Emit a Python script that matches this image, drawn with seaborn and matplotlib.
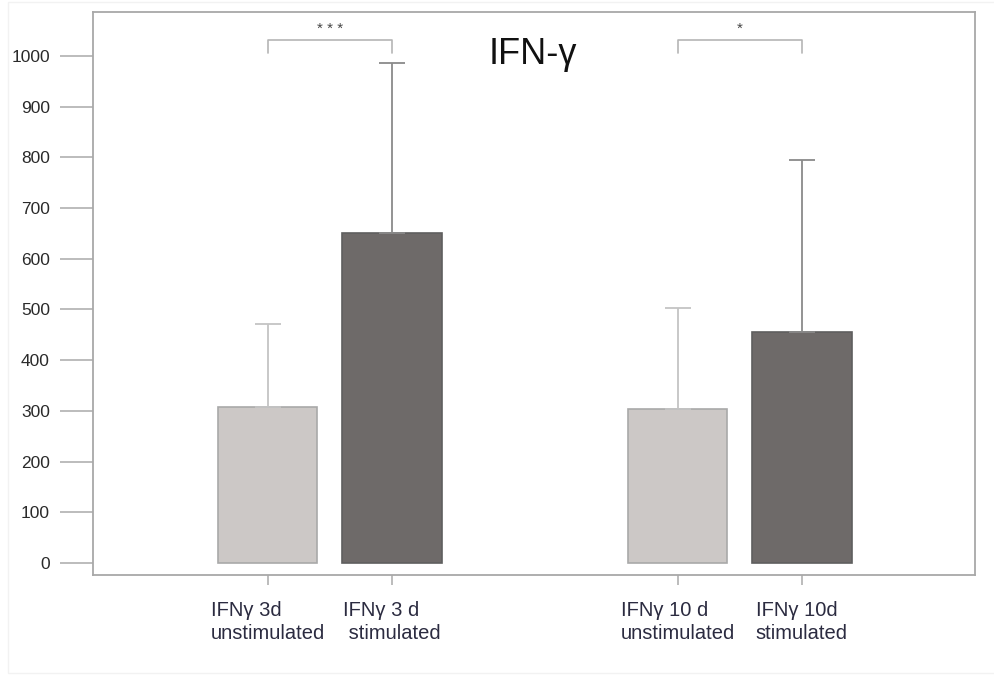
import matplotlib
matplotlib.use("Agg")
import matplotlib.pyplot as plt
import matplotlib.patches as mpatches
import numpy as np
import pandas as pd
import seaborn as sns

# Group labels, positions along the x axis, means and upper SD
labels = ["IFNγ 3d\nunstimulated", "IFNγ 3 d\n stimulated",
          "IFNγ 10 d\nunstimulated", "IFNγ 10d\nstimulated"]
positions = [0.0, 1.0, 3.3, 4.3]
means = [307, 651, 303, 456]
upper_sd = [164, 336, 200, 338]
condition = ["unstimulated", "stimulated", "unstimulated", "stimulated"]

# Significance brackets: (left index, right index, stars)
brackets = [(0, 1, "* * *"), (2, 3, "*")]

y_ticks = list(range(0, 1001, 100))

fill = {"unstimulated": "#cdc7c5", "stimulated": "#6f6a68"}
edge = {"unstimulated": "#a9a9a9", "stimulated": "#5f5f5f"}
err_col = {"unstimulated": "#c4c4c4", "stimulated": "#8a8a8a"}

sns.set_theme(style="white")
plt.rcParams["font.family"] = ["Liberation Sans", "DejaVu Sans"]

df = pd.DataFrame({"pos": positions, "mean": means, "cond": condition})

fig = plt.figure(figsize=(9.95, 6.75), dpi=100)
ax = fig.add_axes([93 / 995, 1 - 575 / 675, (975 - 93) / 995, (575 - 12) / 675])

sns.barplot(data=df, x="pos", y="mean", hue="cond", palette=fill,
            native_scale=True, dodge=False, width=0.8, errorbar=None,
            legend=False, ax=ax, linewidth=1.2)

for patch in ax.patches:
    x_mid = patch.get_x() + patch.get_width() / 2
    i = int(np.argmin([abs(x_mid - p) for p in positions]))
    patch.set_edgecolor(edge[condition[i]])
    patch.set_linewidth(1.2)

for i, (p, m, s) in enumerate(zip(positions, means, upper_sd)):
    ax.errorbar([p], [m], yerr=[[0], [s]], fmt="none",
                ecolor=err_col[condition[i]], elinewidth=1.3,
                capsize=9.5, capthick=1.3, zorder=1)

# Significance brackets
for a, b, stars in brackets:
    xa, xb = positions[a], positions[b]
    ax.plot([xa, xa, xb, xb], [1006, 1031, 1031, 1006],
            color="#b5b5b5", lw=1.2, clip_on=False)
    ax.text((xa + xb) / 2, 1040, stars, ha="center", va="bottom",
            fontsize=11, color="#444444")

ax.text(2.135, 1002, "IFN-γ", ha="center", va="center",
        fontsize=26, color="#111111")

ax.set_xlim(-1.407, 5.694)
ax.set_ylim(-23.7, 1086.8)
ax.set_yticks(y_ticks)
ax.set_yticklabels([str(t) for t in y_ticks])
ax.set_xticks(positions)
ax.set_xticklabels(labels, multialignment="left", linespacing=1.25)
ax.set_xlabel("")
ax.set_ylabel("")

ax.tick_params(axis="y", which="major", left=True, length=24, width=1.2,
               color="#b0b0b0", pad=7, labelsize=12.5, labelcolor="#2a2a2a")
ax.tick_params(axis="x", which="major", bottom=True, length=7, width=1.2,
               color="#b0b0b0", pad=12, labelsize=14.5, labelcolor="#2b2b40")

for sp in ax.spines.values():
    sp.set_visible(True)
    sp.set_color("#a8a8a8")
    sp.set_linewidth(1.3)

# faint outer frame
fig.patches.append(mpatches.Rectangle((8 / 995, 2 / 675), 1 - 8 / 995, 1 - 4 / 675,
                                      transform=fig.transFigure, fill=False,
                                      edgecolor="#f2f2f2", linewidth=1))

fig.savefig("out.png", dpi=100, facecolor="white")
